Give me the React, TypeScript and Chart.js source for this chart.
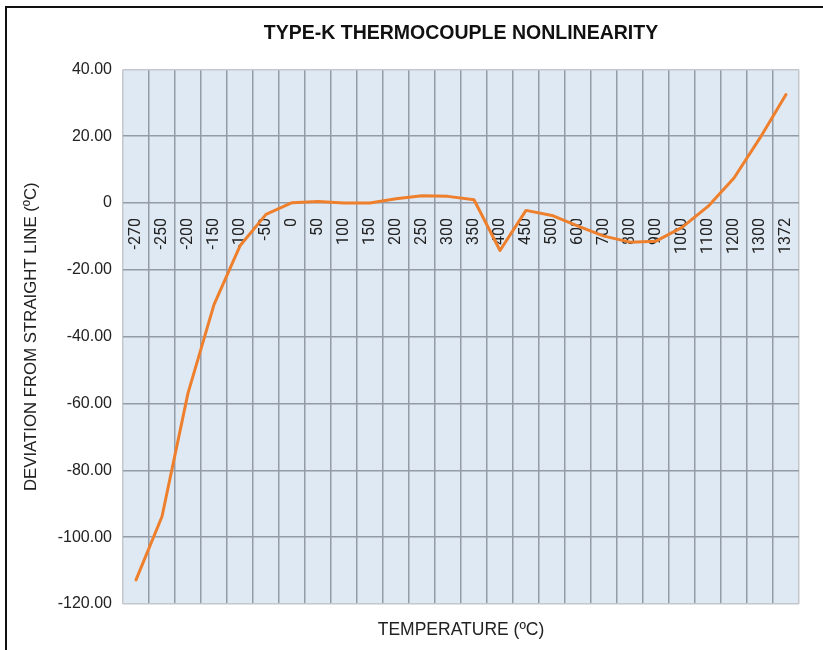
import React, { useEffect, useRef } from 'react';
import { Chart, registerables } from 'chart.js';

Chart.register(...registerables);

const chartTitle = 'TYPE-K THERMOCOUPLE NONLINEARITY';
const xTitle = 'TEMPERATURE (ºC)';
const yTitle = 'DEVIATION FROM STRAIGHT LINE (ºC)';

const temperatures = [
  '-270', '-250', '-200', '-150', '-100', '-50', '0', '50', '100', '150', '200', '250', '300',
  '350', '400', '450', '500', '600', '700', '800', '900', '1000', '1100', '1200', '1300', '1372',
];

const deviation = [
  -112.8, -93.8, -56.9, -30.4, -12.8, -3.4, 0.1, 0.5, 0.0, 0.0, 1.3, 2.2, 2.0,
  1.0, -14.2, -2.2, -3.7, -6.9, -9.9, -11.7, -11.4, -7.3, -1.0, 7.5, 19.5, 32.5,
];

const yMin = -120;
const yMax = 40;
const yStep = 20;

const PLOT_BG = '#DFE9F3';
const GRID_DARK = '#939CA6';
const GRID_LIGHT = '#C3C8CD';
const LINE_COLOR = '#EE7F2D';

const plotBackground = {
  id: 'plotBackground',
  beforeDraw(chart: any) {
    const { ctx, chartArea } = chart;
    if (!chartArea) return;
    ctx.save();
    ctx.fillStyle = PLOT_BG;
    ctx.fillRect(chartArea.left, chartArea.top, chartArea.right - chartArea.left, chartArea.bottom - chartArea.top);
    ctx.restore();
  },
};

export default function App() {
  const ref = useRef<HTMLCanvasElement>(null);

  useEffect(() => {
    const canvas = ref.current;
    if (!canvas) return;
    const chart = new Chart(canvas, {
      type: 'line',
      data: {
        labels: temperatures,
        datasets: [
          {
            label: 'Deviation',
            data: deviation,
            borderColor: LINE_COLOR,
            backgroundColor: LINE_COLOR,
            borderWidth: 3,
            pointRadius: 0,
            tension: 0,
            borderJoinStyle: 'round',
            borderCapStyle: 'round',
            xAxisID: 'x',
          },
        ],
      },
      plugins: [plotBackground],
      options: {
        responsive: false,
        animation: false,
        layout: { padding: { left: 21, right: 24, top: 0, bottom: 0 } },
        plugins: {
          legend: { display: false },
          tooltip: { enabled: false },
          title: {
            display: true,
            fullSize: false,
            text: chartTitle,
            color: '#111',
            font: { family: 'Liberation Sans', size: 19.5, weight: 'bold' },
            padding: { top: 22, bottom: 24 },
          },
        },
        scales: {
          x: {
            type: 'category',
            position: { y: 0 } as any,
            offset: true,
            grid: {
              offset: true,
              drawTicks: false,
              lineWidth: 1.5,
              color: (ctx: any) => (ctx.type !== 'tick' || ctx.index === 0 ? GRID_LIGHT : GRID_DARK),
            },
            border: { display: false },
            ticks: {
              autoSkip: false,
              minRotation: 90,
              maxRotation: 90,
              padding: 15,
              color: '#222',
              font: { family: 'Roboto', size: 16 },
            },
          },
          x2: {
            type: 'category',
            position: 'bottom',
            grid: { display: false, drawTicks: false },
            border: { display: false },
            ticks: { display: false },
            title: {
              display: true,
              text: xTitle,
              color: '#222',
              font: { family: 'Liberation Sans', size: 17.5 },
              padding: { top: 16, bottom: 9 },
            },
          },
          y: {
            type: 'linear',
            position: 'left',
            min: yMin,
            max: yMax,
            afterFit(scale: any) {
              scale.width = 102;
            },
            grid: {
              drawTicks: false,
              lineWidth: 1.5,
              color: (ctx: any) =>
                ctx.tick && (ctx.tick.value === yMax || ctx.tick.value === yMin) ? GRID_LIGHT : GRID_DARK,
            },
            border: { display: false },
            ticks: {
              stepSize: yStep,
              padding: 11,
              color: '#222',
              font: { family: 'Liberation Sans', size: 16 },
              callback: (v: any) => (Number(v) === 0 ? '0' : Number(v).toFixed(2)),
            },
            title: {
              display: true,
              text: yTitle,
              color: '#222',
              font: { family: 'Liberation Sans', size: 16.8 },
              padding: { top: 0, bottom: 0 },
            },
          },
        },
      } as any,
    });
    return () => chart.destroy();
  }, []);

  return (
    <div
      style={{
        position: 'absolute',
        left: 0,
        top: 0,
        width: 823,
        height: 650,
        overflow: 'hidden',
        background: '#fff',
      }}
    >
      <div
        style={{
          position: 'absolute',
          left: 5,
          top: 6,
          width: 900,
          height: 700,
          borderLeft: '2px solid #111',
          borderTop: '2px solid #111',
        }}
      />
      <canvas
        ref={ref}
        width={823}
        height={650}
        style={{ position: 'absolute', left: 0, top: 0, width: 823, height: 650 }}
      />
    </div>
  );
}
